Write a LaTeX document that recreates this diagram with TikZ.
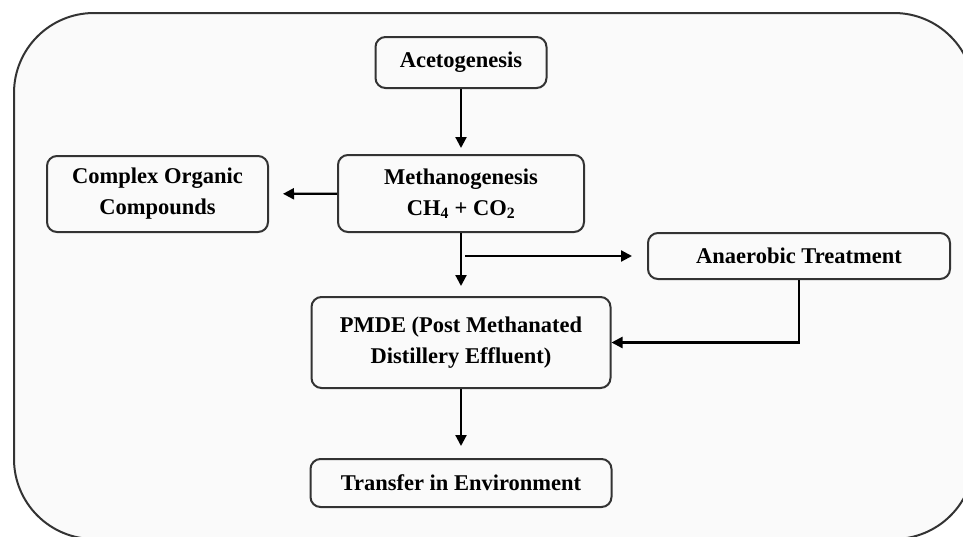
\documentclass[tikz,border=0pt]{standalone}
\usepackage{fontspec}
\setmainfont{Liberation Serif}
\usetikzlibrary{arrows.meta, positioning}
\definecolor{cdark}{HTML}{333333}
\definecolor{cback}{HTML}{FAFAFA}
\tikzset{
  every picture/.style={line width=2pt},
  box/.style={draw=cdark, fill=cback, rounded corners=10pt, align=center, inner sep=4pt, font=\fontsize{22.5}{31}\selectfont\bfseries},
  arrow/.style={-{Triangle[length=11pt, width=11pt]}, draw=black, line width=2.2pt},
  frame/.style={draw=cdark, fill=cback, rounded corners=80pt},
}
\begin{document}
\begin{tikzpicture}[x=1pt, y=-1pt]
  \useasboundingbox (0,0) rectangle (963,536);
  \clip (0,0) rectangle (963,536);
  \draw[frame] (14,13) rectangle (974,539);
  \node[box, minimum width=171pt, minimum height=51pt] (aceto) at (461,62.5) {Acetogenesis};
  \node[box, minimum width=246pt, minimum height=77pt] (metha) at (461,193.5) {Methanogenesis\\CH\textsubscript{4} + CO\textsubscript{2}};
  \node[box, minimum width=221pt, minimum height=76pt] (complex) at (157.5,194) {Complex Organic\\Compounds};
  \node[box, minimum width=302pt, minimum height=46pt] (anaer) at (799,256) {Anaerobic Treatment};
  \node[box, minimum width=299pt, minimum height=91pt] (pmde) at (461,342.5) {PMDE (Post Methanated\\Distillery Effluent)};
  \node[box, minimum width=301pt, minimum height=48pt] (transfer) at (461,483) {Transfer in Environment};
  \draw[arrow, shorten >=6pt] (aceto) -- (metha);
  \draw[arrow, shorten >=14pt] (metha) -- (complex);
  \draw[arrow, shorten >=10pt] (metha) -- (pmde);
  \draw[arrow, shorten >=15pt] ([xshift=4pt]metha.south |- anaer.west) -- (anaer.west);
  \draw[arrow] (anaer.south) |- (pmde.east);
  \draw[arrow, shorten >=12pt] (pmde) -- (transfer);
\end{tikzpicture}
\end{document}
